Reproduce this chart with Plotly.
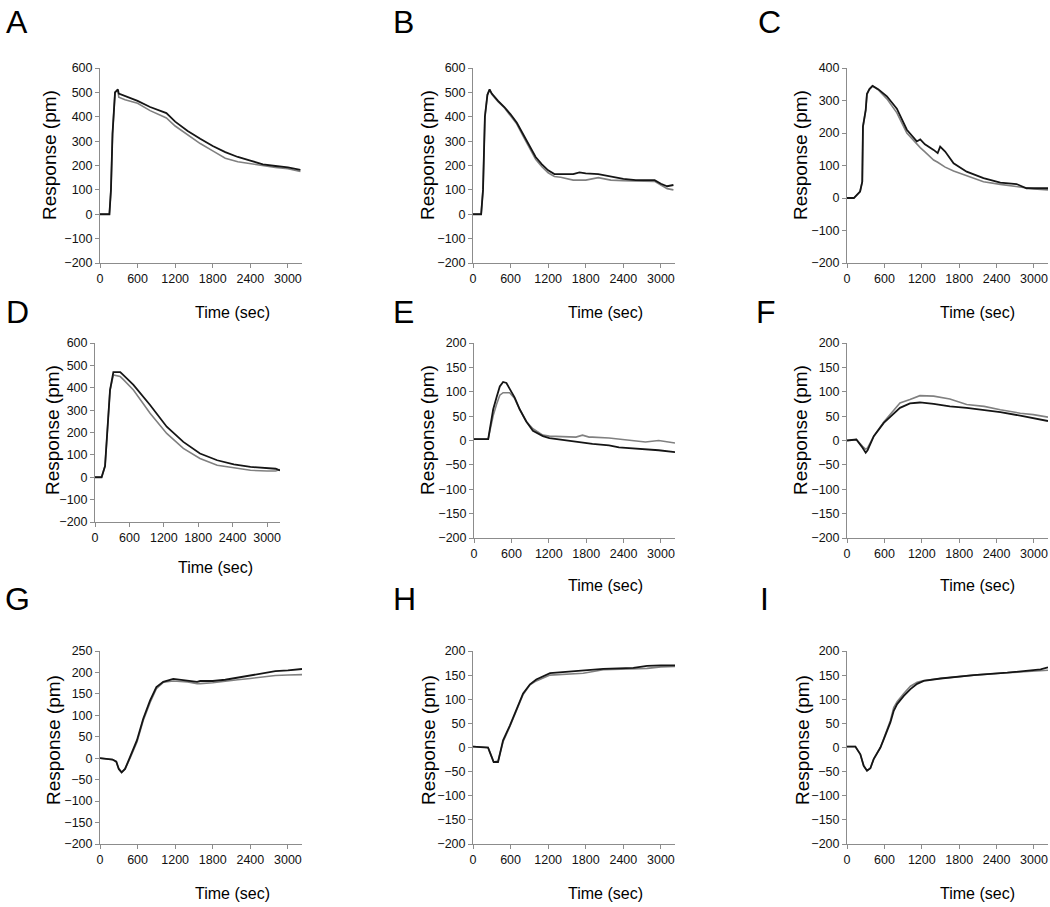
import plotly.graph_objects as go

W, H = 1050, 907

# ---------------- data ----------------
# A
t_a = [0, 150, 175, 200, 240, 285, 300, 400, 600, 800, 1000, 1060, 1200, 1400, 1600, 1800, 2000, 2200, 2400, 2600, 2800, 3000, 3200]
a_black = [0, 0, 100, 330, 500, 512, 495, 485, 465, 440, 420, 415, 380, 342, 310, 280, 255, 235, 220, 205, 198, 192, 182]
a_gray = [0, 0, 100, 330, 500, 510, 480, 470, 455, 425, 402, 395, 362, 325, 290, 260, 230, 215, 207, 198, 192, 187, 175]

# B
t_b = [0, 130, 160, 190, 230, 265, 300, 400, 500, 600, 700, 800, 900, 1000, 1100, 1200, 1300, 1400, 1600, 1700, 1800, 2000, 2200, 2400, 2600, 2800, 2900, 3000, 3100, 3200]
b_black = [0, 0, 100, 400, 490, 512, 495, 465, 440, 410, 375, 330, 285, 235, 205, 180, 165, 165, 165, 172, 168, 165, 155, 145, 140, 140, 140, 125, 115, 120]
b_gray = [0, 0, 100, 400, 490, 510, 492, 462, 437, 405, 370, 320, 275, 225, 195, 170, 155, 152, 140, 140, 140, 150, 140, 138, 138, 138, 135, 120, 105, 100]

# C
t_c = [0, 110, 210, 245, 256, 300, 320, 360, 410, 500, 640, 800, 960, 1120, 1175, 1250, 1390, 1455, 1495, 1575, 1710, 1920, 2190, 2460, 2720, 2880, 3000, 3225]
c_black = [0, 0, 20, 50, 220, 270, 320, 335, 345, 335, 313, 275, 210, 174, 180, 165, 148, 138, 158, 143, 107, 81, 61, 47, 43, 30, 30, 30]
c_gray = [0, 0, 20, 50, 220, 270, 320, 335, 345, 333, 305, 262, 200, 164, 155, 142, 117, 110, 105, 95, 83, 68, 50, 42, 35, 30, 28, 25]

# D
t_d = [0, 115, 175, 233, 262, 320, 440, 500, 670, 960, 1250, 1540, 1830, 2130, 2420, 2710, 3000, 3150, 3225]
d_black = [0, 0, 50, 270, 390, 470, 470, 455, 413, 323, 226, 158, 106, 76, 58, 46, 40, 38, 30]
d_gray = [0, 0, 50, 270, 390, 457, 450, 435, 390, 286, 196, 129, 84, 54, 42, 31, 28, 28, 35]

# E
t_e = [0, 228, 255, 308, 361, 414, 467, 520, 573, 653, 733, 839, 945, 1105, 1210, 1635, 1741, 1847, 1900, 2166, 2326, 2432, 2698, 2750, 2963, 3225]
e_black = [3, 3, 24, 64, 88, 111, 120, 118, 106, 88, 64, 39, 20, 9, 5, -3, -5, -6, -7, -10, -14, -15, -17, -18, -20, -24]
e_gray = [3, 3, 20, 51, 74, 93, 98, 98, 98, 86, 64, 39, 24, 11, 9, 7, 11, 7, 7, 5, 3, 1, -2, -3, 0, -5]

# F
t_f = [0, 150, 250, 300, 330, 430, 590, 750, 850, 1010, 1170, 1390, 1650, 1920, 2200, 2460, 2780, 2990, 3225]
f_black = [0, 2, -15, -25, -20, 9, 36, 56, 67, 76, 78, 75, 70, 67, 63, 58, 51, 46, 40]
f_gray = [0, 2, -12, -18, -15, 9, 38, 62, 77, 84, 92, 91, 85, 74, 70, 63, 56, 53, 48]

# G
t_g = [0, 200, 260, 300, 345, 400, 480, 590, 690, 800, 900, 1010, 1170, 1400, 1550, 1600, 1800, 2000, 2200, 2400, 2600, 2800, 3000, 3225]
g_black = [0, -3, -8, -25, -33, -25, 3, 42, 92, 135, 166, 178, 185, 180, 178, 180, 180, 183, 188, 192, 197, 203, 205, 208]
g_gray = [0, -3, -8, -25, -33, -25, 0, 38, 88, 130, 162, 177, 180, 178, 174, 174, 176, 180, 183, 186, 189, 193, 194, 195]

# H
t_h = [0, 240, 270, 330, 400, 480, 590, 690, 800, 910, 1010, 1230, 1500, 1760, 2080, 2560, 2780, 3000, 3225]
h_black = [2, 0, -10, -30, -30, 15, 46, 77, 112, 131, 141, 154, 157, 160, 163, 165, 169, 170, 170]
h_gray = [2, 0, -10, -30, -28, 12, 44, 77, 110, 130, 138, 150, 152, 154, 161, 164, 164, 167, 168]

# I
t_i = [0, 134, 214, 268, 321, 375, 428, 536, 589, 643, 696, 750, 804, 911, 1018, 1125, 1232, 1500, 2035, 2571, 3106, 3225]
i_black = [2, 2, -14, -38, -48, -43, -24, 0, 17, 34, 52, 76, 90, 107, 121, 132, 138, 143, 150, 155, 162, 166]
i_gray = [2, 2, -14, -38, -48, -43, -24, 0, 18, 36, 56, 83, 95, 112, 127, 135, 139, 143, 150, 155, 160, 160]

x_ticks = [0, 600, 1200, 1800, 2400, 3000]

# (letter, time, black, gray, y range, y step)
panels = [
    ("A", t_a, a_black, a_gray, (-200, 600), 100),
    ("B", t_b, b_black, b_gray, (-200, 600), 100),
    ("C", t_c, c_black, c_gray, (-200, 400), 100),
    ("D", t_d, d_black, d_gray, (-200, 600), 100),
    ("E", t_e, e_black, e_gray, (-200, 200), 50),
    ("F", t_f, f_black, f_gray, (-200, 200), 50),
    ("G", t_g, g_black, g_gray, (-200, 250), 50),
    ("H", t_h, h_black, h_gray, (-200, 200), 50),
    ("I", t_i, i_black, i_gray, (-200, 200), 50),
]

# plot-area boxes in pixels: left, right, top, bottom
boxes = [
    (100, 302, 68, 263), (473, 675, 68, 263), (847, 1048, 68, 263),
    (95, 280, 343, 522), (474, 675, 343, 538), (847, 1048, 343, 538),
    (100, 302, 651, 844), (473, 675, 651, 844), (847, 1048, 651, 844),
]
# label centres in pixels: letter, y title, x title
letters = [(17, 22), (403, 22), (769, 22), (17, 312), (403, 312), (766, 312), (17, 599), (404, 599), (764, 599)]
ytitles = [(49, 155), (427, 155), (800, 155), (52, 430), (427, 430), (800, 430), (53, 740), (428, 740), (802, 740)]
xtitles = [(232, 313), (605, 313), (977, 313), (215, 567), (605, 585), (977, 585), (232, 893), (605, 893), (977, 893)]

FONT = "Liberation Sans, Arial, sans-serif"

def px(x):
    return x / W

def py(y):
    return 1 - y / H

fig = go.Figure()
annotations = []

for i, (letter, t, blk, gry, yr, step) in enumerate(panels):
    n = "" if i == 0 else str(i + 1)
    xa, ya = "x" + n, "y" + n
    fig.add_trace(go.Scatter(x=t, y=gry, mode="lines", xaxis=xa, yaxis=ya,
                             line=dict(color="#808080", width=1.6), showlegend=False))
    fig.add_trace(go.Scatter(x=t, y=blk, mode="lines", xaxis=xa, yaxis=ya,
                             line=dict(color="#151515", width=1.8), showlegend=False))

    l, r, top, bot = boxes[i]
    axis_common = dict(showgrid=False, zeroline=False, showline=True, linecolor="#8c8c8c",
                       linewidth=1, ticks="outside", ticklen=4, tickcolor="#8c8c8c",
                       automargin=False,
                       tickfont=dict(family=FONT, size=12.5, color="#111"))
    fig.layout["xaxis" + n] = dict(domain=[px(l), px(r)], range=[0, 3225], tickvals=x_ticks,
                                   anchor=ya, **axis_common)
    fig.layout["yaxis" + n] = dict(domain=[py(bot), py(top)], range=list(yr), dtick=step,
                                   tick0=yr[0], anchor=xa, **axis_common)

    common = dict(xref="paper", yref="paper", xanchor="center", yanchor="middle", showarrow=False)
    lx, ly = letters[i]
    annotations.append(dict(text=letter, x=px(lx), y=py(ly),
                            font=dict(family=FONT, size=32, color="#000"), **common))
    yx, yy = ytitles[i]
    annotations.append(dict(text="Response (pm)", x=px(yx), y=py(yy), textangle=-90,
                            font=dict(family=FONT, size=19, color="#000"), **common))
    tx, ty = xtitles[i]
    annotations.append(dict(text="Time (sec)", x=px(tx), y=py(ty),
                            font=dict(family=FONT, size=16, color="#000"), **common))

fig.update_layout(width=W, height=H, margin=dict(l=0, r=0, t=0, b=0),
                  paper_bgcolor="white", plot_bgcolor="white", annotations=annotations)

# drop the page's default body margin so the figure fills the window exactly
fig.write_html("out.html", config={"displayModeBar": False},
               post_script="document.body.style.margin='0';document.body.style.overflow='hidden';")
